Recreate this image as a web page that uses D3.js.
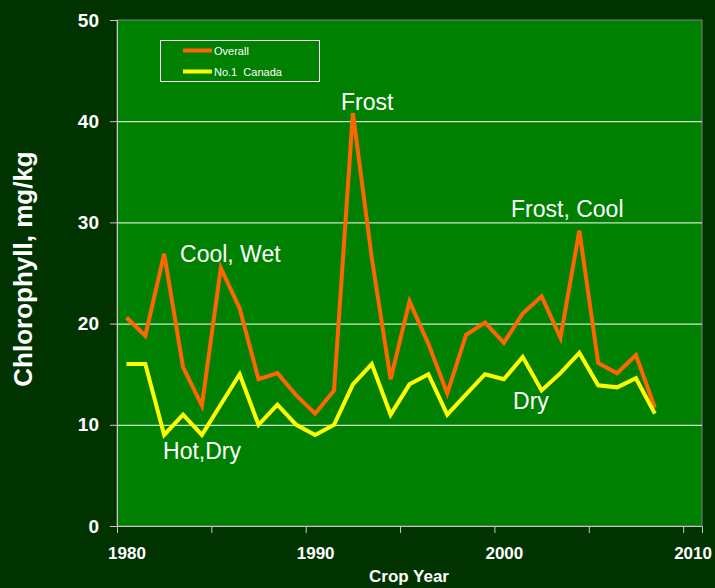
<!DOCTYPE html>
<html>
<head>
<meta charset="utf-8">
<script src="https://cdn.jsdelivr.net/npm/d3@7"></script>
<style>
  body { margin: 0; background: #003300; }
  text { font-family: "Liberation Sans", Arial, sans-serif; }
</style>
</head>
<body>
<div id="chart"></div>
<script>
// crop years and chlorophyll values (mg/kg)
const years = d3.range(1980, 2009);
const overall = [20.6, 18.8, 26.9, 15.7, 11.9, 25.5, 21.5, 14.5, 15.1, 12.9,
  11.1, 13.4, 40.8, 26.5, 14.5, 22.2, 18.0, 13.1, 18.9, 20.1,
  18.1, 21.0, 22.7, 18.6, 29.2, 16.1, 15.1, 16.9, 11.7];
const canada1 = [16.0, 16.0, 9.0, 11.0, 9.0, 12.0, 15.0, 10.0, 12.0, 10.0,
  9.0, 10.0, 14.0, 16.0, 11.0, 14.0, 15.0, 11.0, 13.0, 15.0,
  14.5, 16.7, 13.4, 15.1, 17.1, 13.9, 13.7, 14.6, 11.1];
const yTicks = [0, 10, 20, 30, 40, 50];
const xLabels = [1980, 1990, 2000, 2010];
const xMarks = [1979.5, 1984.5, 1989.5, 1994.5, 1999.5, 2004.5, 2009.5];
// annotation texts, anchored at their left edge
const notes = [
  { text: "Frost", year: 1991.37, value: 41.1 },
  { text: "Cool, Wet", year: 1982.84, value: 26.1 },
  { text: "Frost, Cool", year: 2000.38, value: 30.55 },
  { text: "Hot,Dry", year: 1981.94, value: 6.6 },
  { text: "Dry", year: 2000.49, value: 11.55 }
];

const w = 715, h = 588;
const m = { left: 117, right: 702, top: 20, bottom: 526 };

const x = d3.scaleLinear().domain([1979.5, 2010.5]).range([m.left, m.right]);
const y = d3.scaleLinear().domain([0, 50]).range([m.bottom, m.top]);

const svg = d3.select("#chart").append("svg")
  .attr("width", w).attr("height", h);

svg.append("rect").attr("width", w).attr("height", h).attr("fill", "#003300");

svg.append("rect")
  .attr("x", m.left).attr("y", m.top)
  .attr("width", m.right - m.left).attr("height", m.bottom - m.top)
  .attr("fill", "#008000")
  .attr("stroke", "#808080").attr("stroke-width", 1);

// gridlines
svg.selectAll(".grid")
  .data(yTicks.filter(d => d > 0 && d < 50))
  .enter().append("line")
  .attr("x1", m.left).attr("x2", m.right)
  .attr("y1", d => y(d) + 0.5).attr("y2", d => y(d) + 0.5)
  .attr("stroke", "#ffffff").attr("stroke-width", 1);

// y axis
const yAxis = svg.append("g")
  .attr("transform", `translate(${m.left},0)`)
  .call(d3.axisLeft(y).tickValues(yTicks).tickSize(7).tickPadding(11));
yAxis.select(".domain").attr("stroke", "#c8c8c8");
yAxis.selectAll(".tick line").attr("stroke", "#c8c8c8");
yAxis.selectAll("text")
  .attr("fill", "#ffffff")
  .style("font-size", "19px").style("font-weight", "bold")
  .style("font-family", '"Liberation Sans", Arial, sans-serif');

// x axis marks
const xAxis = svg.append("g")
  .attr("transform", `translate(0,${m.bottom})`)
  .call(d3.axisBottom(x).tickValues(xMarks).tickSize(7).tickFormat(""));
xAxis.select(".domain").attr("stroke", "#c8c8c8");
xAxis.selectAll(".tick line").attr("stroke", "#c8c8c8");

// x axis labels
const xLab = svg.append("g")
  .attr("transform", `translate(0,${m.bottom})`)
  .call(d3.axisBottom(x).tickValues(xLabels).tickSize(0).tickPadding(21).tickFormat(d3.format("d")));
xLab.select(".domain").remove();
xLab.selectAll("text")
  .attr("fill", "#ffffff")
  .style("font-size", "17px").style("font-weight", "bold")
  .style("font-family", '"Liberation Sans", Arial, sans-serif');

// axis titles
svg.append("text")
  .attr("transform", "translate(32,269) rotate(-90)")
  .attr("text-anchor", "middle")
  .attr("fill", "#ffffff")
  .style("font-size", "26px").style("font-weight", "bold")
  .text("Chlorophyll, mg/kg");

svg.append("text")
  .attr("x", 409).attr("y", 582)
  .attr("text-anchor", "middle")
  .attr("fill", "#ffffff")
  .style("font-size", "17px").style("font-weight", "bold")
  .text("Crop Year");

// lines
const line = d3.line().x((d, i) => x(years[i])).y(d => y(d));

svg.append("path").datum(overall)
  .attr("d", line).attr("fill", "none")
  .attr("stroke", "#ff6600").attr("stroke-width", 4)
  .attr("stroke-linejoin", "miter");

svg.append("path").datum(canada1)
  .attr("d", line).attr("fill", "none")
  .attr("stroke", "#ffff00").attr("stroke-width", 4)
  .attr("stroke-linejoin", "miter");

// annotations
svg.selectAll(".note")
  .data(notes).enter().append("text")
  .attr("x", d => x(d.year)).attr("y", d => y(d.value))
  .attr("fill", "#ffffff")
  .style("font-size", "23px")
  .text(d => d.text);

// legend
const legend = svg.append("g");
legend.append("rect")
  .attr("x", 160.5).attr("y", 40.5).attr("width", 159).attr("height", 41)
  .attr("fill", "none").attr("stroke", "#ffffff").attr("stroke-width", 1);
const items = [["Overall", "#ff6600"], ["No.1\u00a0\u00a0Canada", "#ffff00"]];
items.forEach((it, i) => {
  const ly = 50.5 + i * 21;
  legend.append("line")
    .attr("x1", 183).attr("x2", 212).attr("y1", ly).attr("y2", ly)
    .attr("stroke", it[1]).attr("stroke-width", 4);
  legend.append("text")
    .attr("x", 214).attr("y", ly + 4)
    .attr("fill", "#ffffff")
    .style("font-size", "11px")
    .text(it[0]);
});
</script>
</body>
</html>
